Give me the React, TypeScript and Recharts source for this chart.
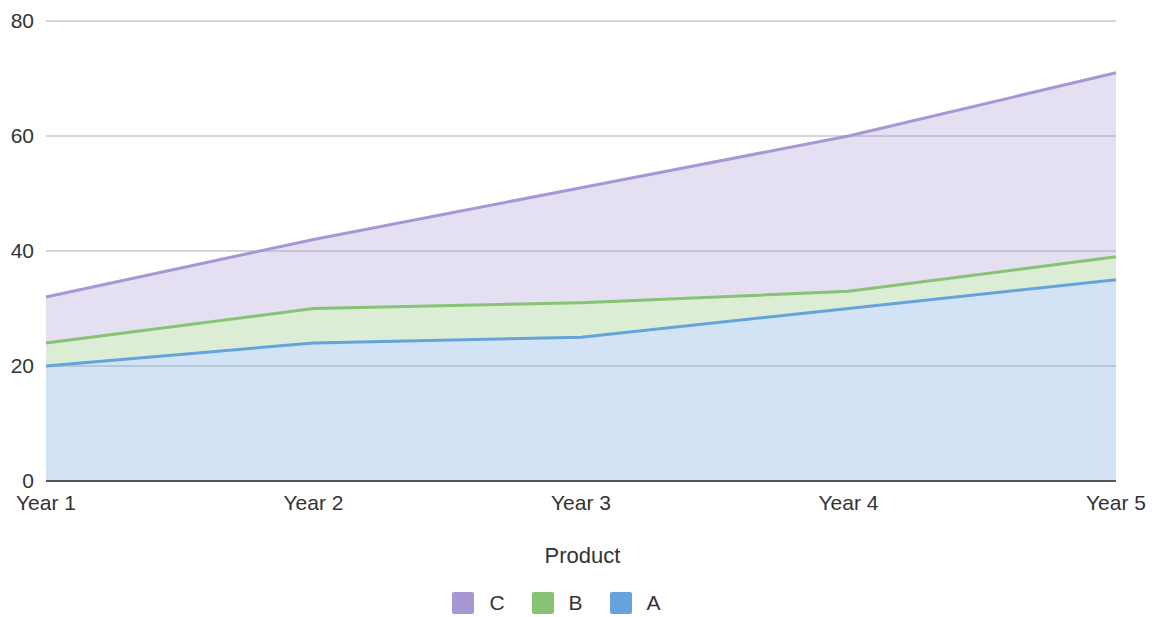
import { Area, AreaChart, CartesianGrid, Legend, XAxis, YAxis } from "recharts";

// Valores (empilhados: A embaixo, B no meio, C em cima)
const years = ["Year 1", "Year 2", "Year 3", "Year 4", "Year 5"];
const productA = [20, 24, 25, 30, 35];
const productB = [4, 6, 6, 3, 4];
const productC = [8, 12, 20, 27, 32];
const yTicks = [0, 20, 40, 60, 80];

const FONT = '"Liberation Sans", Arial, sans-serif';

const series = [
  { key: "C", color: "#a797d3" },
  { key: "B", color: "#88c273" },
  { key: "A", color: "#66a3dc" },
];

const data = years.map((year, i) => ({
  year,
  A: productA[i],
  B: productB[i],
  C: productC[i],
}));

function ProductLegend() {
  return (
    <div style={{ position: "relative", width: 1153, height: 90, fontFamily: FONT, color: "#333" }}>
      <div style={{ position: "absolute", top: 16, left: 6, width: "100%", textAlign: "center", fontSize: 22 }}>
        Product
      </div>
      <div
        style={{
          position: "absolute",
          top: 64,
          left: -20,
          width: "100%",
          display: "flex",
          justifyContent: "center",
          gap: 27,
          fontSize: 21,
        }}
      >
        {series.map((s) => (
          <div key={s.key} style={{ display: "flex", alignItems: "center", gap: 15 }}>
            <span style={{ width: 22, height: 22, borderRadius: 2, background: s.color, display: "inline-block" }} />
            <span>{s.key}</span>
          </div>
        ))}
      </div>
    </div>
  );
}

export default function App() {
  const bottomUp = [...series].reverse();
  return (
    <div style={{ position: "absolute", left: 0, top: 0, background: "#fff" }}>
      <AreaChart
        width={1153}
        height={617}
        data={data}
        margin={{ top: 21, right: 37, bottom: 0, left: 0 }}
      >
        <CartesianGrid vertical={false} stroke="#c8c8c8" strokeWidth={1.5} />
        <XAxis
          dataKey="year"
          interval={0}
          tickLine={false}
          axisLine={{ stroke: "#555", strokeWidth: 2 }}
          tickMargin={8}
          height={46}
          tick={{ fontSize: 21, fill: "#333", fontFamily: FONT }}
        />
        <YAxis
          domain={[0, 80]}
          ticks={yTicks}
          axisLine={false}
          tickLine={false}
          tickMargin={6}
          width={46}
          tick={{ fontSize: 21, fill: "#333", fontFamily: FONT }}
        />
        <Legend verticalAlign="bottom" height={90} content={() => <ProductLegend />} />
        {bottomUp.map((s) => (
          <Area
            key={`fill-${s.key}`}
            type="linear"
            dataKey={s.key}
            stackId="fill"
            stroke="none"
            fill={s.color}
            fillOpacity={0.3}
            isAnimationActive={false}
          />
        ))}
        {bottomUp.map((s) => (
          <Area
            key={`line-${s.key}`}
            type="linear"
            dataKey={s.key}
            stackId="line"
            stroke={s.color}
            strokeWidth={3}
            fill="none"
            isAnimationActive={false}
          />
        ))}
      </AreaChart>
    </div>
  );
}
